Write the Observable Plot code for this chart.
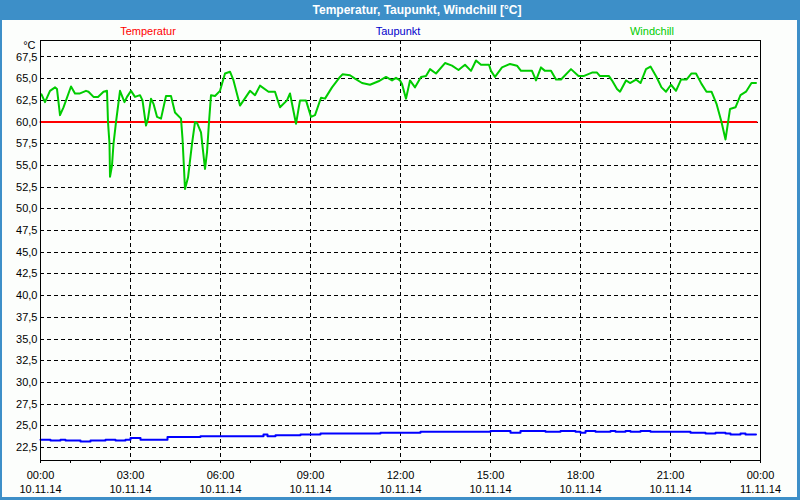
<!DOCTYPE html>
<html><head><meta charset="utf-8">
<script src="https://cdn.jsdelivr.net/npm/d3@7"></script>
<script src="https://cdn.jsdelivr.net/npm/@observablehq/plot@0.6"></script>
<style>
html,body{margin:0;padding:0;}
body{width:800px;height:500px;overflow:hidden;font-family:"Liberation Sans",Arial,sans-serif;}
#frame{position:absolute;left:0;top:0;width:800px;height:500px;background:#3d8fc8;}
#inner{position:absolute;left:2px;top:20px;width:795px;height:477px;background:#fcfefc;}
#title{position:absolute;left:0;top:0;width:834px;height:20px;line-height:20px;text-align:center;color:#fff;font-weight:bold;font-size:12px;}
.leg{position:absolute;top:25px;font-size:11px;transform:translateX(-50%);white-space:nowrap;line-height:13px;}
#chart{position:absolute;left:0;top:0;}
</style></head><body>
<div id="frame">
  <div id="inner"></div>
  <div id="title">Temperatur, Taupunkt, Windchill [°C]</div>
  <div class="leg" style="left:148px;color:#ff0000">Temperatur</div>
  <div class="leg" style="left:398px;color:#0000cc">Taupunkt</div>
  <div class="leg" style="left:652px;color:#00cc00">Windchill</div>
  <div id="chart"></div>
</div>
<script>
// ---- data ----
const tempTimes = ["00:00", "23:52"];
const tempValues = [60.0, 60.0];

const dewTimes = ["00:00","00:20","00:40","00:50","01:20","01:40","02:10","02:30","02:50","03:00","03:20","04:14","05:20","07:26","07:34","07:50","08:40","09:20","11:20","12:40","15:00","15:40","16:00","16:50","17:20","17:50","18:00","18:10","18:30","19:00","19:10","19:30","19:40","20:00","20:20","21:40","22:10","22:30","22:50","23:00","23:20","23:30","23:51"];
const dewValues = [23.4,23.3,23.4,23.3,23.2,23.3,23.4,23.3,23.4,23.6,23.4,23.7,23.8,24.0,23.8,23.9,24.0,24.1,24.2,24.3,24.4,24.2,24.4,24.3,24.4,24.3,24.2,24.4,24.3,24.4,24.3,24.4,24.3,24.4,24.3,24.2,24.1,24.2,24.1,24.0,24.1,24.0,24.0];

const windTimes = ["00:02","00:09","00:19","00:29","00:33","00:39","00:46","01:01","01:09","01:19","01:31","01:36","01:46","01:55","02:06","02:13","02:15","02:18","02:19","02:23","02:26","02:31","02:39","02:48","02:53","03:01","03:09","03:19","03:24","03:31","03:35","03:41","03:46","03:53","04:01","04:11","04:21","04:29","04:41","04:44","04:49","04:55","05:03","05:09","05:13","05:21","05:26","05:29","05:33","05:37","05:41","05:49","05:59","06:09","06:19","06:26","06:39","06:59","07:09","07:19","07:36","07:49","07:59","08:13","08:19","08:31","08:39","08:51","09:01","09:09","09:21","09:29","09:43","09:59","10:04","10:19","10:29","10:43","10:59","11:16","11:31","11:43","11:51","11:59","12:03","12:11","12:19","12:29","12:41","12:51","12:59","13:11","13:29","13:43","13:56","14:09","14:21","14:31","14:41","14:57","15:01","15:09","15:23","15:39","15:53","16:01","16:23","16:31","16:41","16:49","17:01","17:11","17:21","17:41","17:56","18:06","18:23","18:33","18:39","18:57","19:04","19:13","19:19","19:31","19:39","19:51","20:00","20:11","20:20","20:32","20:42","20:51","21:01","21:11","21:21","21:32","21:42","21:51","22:02","22:12","22:22","22:32","22:42","22:50","22:59","23:10","23:20","23:31","23:42","23:51"];
const windValues = [63.2,62.3,63.6,64.0,63.8,60.8,61.7,64.1,63.3,63.3,63.6,63.5,62.9,62.9,63.5,63.6,60.0,57.5,53.7,55.0,57.5,60.0,63.6,62.3,62.9,63.6,62.9,63.1,62.5,59.6,60.4,62.7,62.1,60.6,60.4,63.0,63.0,61.1,60.4,58.1,52.3,53.6,57.5,60.0,59.9,58.8,56.2,54.6,56.5,60.0,63.1,63.0,63.6,65.6,65.8,64.8,61.9,63.6,63.1,64.2,63.5,63.5,61.7,62.5,63.3,59.8,62.5,62.5,60.6,60.8,62.8,62.7,64.0,65.2,65.5,65.4,65.0,64.5,64.3,64.7,65.2,64.8,65.1,64.8,64.4,62.7,64.8,64.0,65.2,65.3,66.1,65.6,66.8,66.5,66.0,66.6,65.9,67.1,66.6,66.6,65.9,65.2,66.3,66.7,66.5,65.9,65.9,64.8,66.3,65.9,65.9,64.9,64.9,66.1,65.3,65.3,65.7,65.7,65.3,65.3,64.7,63.8,63.5,64.8,64.5,64.9,64.5,66.1,66.4,65.2,64.0,63.5,64.3,63.6,64.9,64.9,65.6,65.6,64.4,63.5,63.5,62.1,60.0,58.0,61.5,61.7,63.1,63.5,64.5,64.5];

const yTicks = [22.5,25,27.5,30,32.5,35,37.5,40,42.5,45,47.5,50,52.5,55,57.5,60,62.5,65,67.5];
const xLabelHours = [0,3,6,9,12,15,18,21,24];
const xGridHours = [3,6,9,12,15,18,21];
const xMinorHours = [0,1,2,3,4,5,6,7,8,9,10,11,12,13,14,15,16,17,18,19,20,21,22,23,24];

// ---- build ----
const day = Date.UTC(2014, 10, 10);
const toDate = s => { const [h, m] = s.split(":").map(Number); return new Date(day + (h * 60 + m) * 60000); };
const hourDate = h => new Date(day + h * 3600000);
const series = (times, values) => times.map((t, i) => ({t: toDate(t), v: values[i]}));

const tempData = series(tempTimes, tempValues);
const dewData = series(dewTimes, dewValues);
const windData = series(windTimes, windValues);

const fmtTime = d3.utcFormat("%H:%M");
const fmtDate = d3.utcFormat("%d.%m.%y");

const chart = Plot.plot({
  width: 800, height: 500,
  marginLeft: 40, marginRight: 40, marginTop: 40, marginBottom: 40,
  style: {background: "transparent", fontFamily: "'Liberation Sans', Arial, sans-serif", fontSize: "11px", color: "#000", overflow: "visible"},
  x: {type: "utc", domain: [hourDate(0), hourDate(24)], label: null},
  y: {domain: [21, 69.4], label: null},
  marks: [
    Plot.gridY(yTicks, {stroke: "#000", strokeOpacity: 1, strokeDasharray: "4,3", shapeRendering: "crispEdges"}),
    Plot.gridX(xGridHours.map(hourDate), {stroke: "#000", strokeOpacity: 1, strokeDasharray: "4,3", shapeRendering: "crispEdges"}),
    Plot.line(tempData, {x: "t", y: "v", stroke: "#ff0000", strokeWidth: 2}),
    Plot.line(dewData, {x: "t", y: "v", stroke: "#0000ff", strokeWidth: 2, curve: "step-after"}),
    Plot.line(windData, {x: "t", y: "v", stroke: "#00cc00", strokeWidth: 2}),
    Plot.frame({stroke: "#000", shapeRendering: "crispEdges"}),
    Plot.axisY(yTicks, {tickSize: 0, tickPadding: 3, tickFormat: d => d.toFixed(1).replace(".", ","), fill: "#000"}),
    Plot.axisX(xLabelHours.map(hourDate), {tickSize: 0, tickPadding: 9, lineHeight: 1.27, fill: "#000", tickFormat: d => fmtTime(d) + "\n" + fmtDate(d)}),
    Plot.axisX(xMinorHours.map(hourDate), {tickSize: 3, tickFormat: () => "", stroke: "#000", shapeRendering: "crispEdges"}),
    Plot.text(["°C"], {frameAnchor: "top-left", dx: -5, dy: 1, textAnchor: "end", fill: "#000"})
  ]
});
document.getElementById("chart").appendChild(chart);
</script>
</body></html>
